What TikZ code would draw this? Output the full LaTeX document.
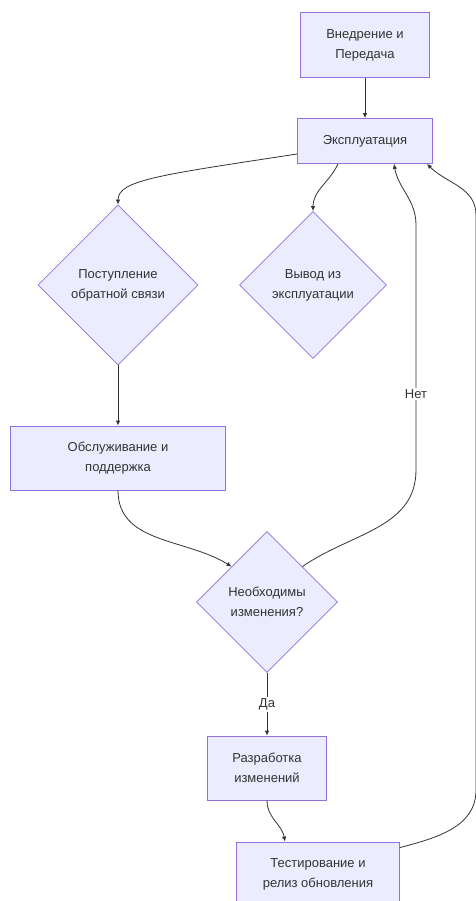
\documentclass[tikz,border=0pt]{standalone}
\usepackage{fontspec}
\setmainfont{Liberation Sans}
\usetikzlibrary{shapes.geometric, arrows.meta}

\definecolor{nodefill}{HTML}{ECECFF}
\definecolor{nodeline}{HTML}{9370DB}
\definecolor{edgeline}{HTML}{333333}

\begin{document}
\begin{tikzpicture}[x=1pt, y=-1pt,
    every node/.style={font=\fontsize{13}{20}\selectfont, align=center, text=edgeline},
    box/.style={draw=nodeline, fill=nodefill, line width=0.8pt, minimum height=64pt},
    choice/.style={diamond, aspect=1, draw=nodeline, fill=nodefill, line width=0.8pt, inner sep=0pt},
    flow/.style={draw=edgeline, line width=0.8pt, -{Latex[length=5pt,width=4.5pt]}},
    edgelabel/.style={fill=white, inner sep=1.5pt}]
    \useasboundingbox (0,0) rectangle (475,901);

    \node[box, minimum width=129pt, minimum height=65pt] (vnedr) at (365,45) {Внедрение и\\Передача};
    \node[box, minimum width=135pt, minimum height=45pt] (ekspl) at (365,141) {Эксплуатация};
    \node[choice, minimum size=160pt] (postup) at (118,285) {Поступление\\обратной связи};
    \node[choice, minimum size=147pt] (vyvod) at (313,285) {Вывод из\\эксплуатации};
    \node[box, minimum width=215pt] (obsl) at (118,458) {Обслуживание и\\поддержка};
    \node[choice, minimum size=141pt] (nuzhno) at (267,602) {Необходимы\\изменения?};
    \node[box, minimum width=119pt] (razrab) at (267,768) {Разработка\\изменений};
    \node[box, minimum width=163pt] (test) at (318,874) {Тестирование и\\релиз обновления};

    \coordinate (netup) at (416,225);
    \coordinate (netdown) at (416,470);
    \coordinate (loopup) at (476,215);
    \coordinate (loopdown) at (476,790);

    \draw[flow] (vnedr) -- (ekspl);
    \draw[flow] ([yshift=-13pt]ekspl.west) .. controls (160,175) and (118,180) .. (postup.north);
    \draw[flow] ([xshift=-27pt]ekspl.south) to[out=-115, in=90] (vyvod.north);
    \draw[flow] (postup.south) -- (obsl.north);
    \draw[flow] (obsl.south) to[out=-90, in=148] (nuzhno.north west);
    \draw[flow] (nuzhno.south) -- node[edgelabel] {Да} (razrab.north);
    \draw[flow] (razrab.south) to[out=-90, in=100] ([xshift=-33pt]test.north);
    \draw[flow] (nuzhno.north east) to[out=35, in=-90] (netdown)
        -- node[edgelabel, pos=0.31] {Нет} (netup) to[out=90, in=-80] ([xshift=29pt]ekspl.south);
    \draw[flow] ([yshift=-6pt]test.north east) to[out=15, in=-90] (loopdown)
        -- (loopup) to[out=90, in=-45] ([xshift=62pt]ekspl.south);
\end{tikzpicture}
\end{document}
